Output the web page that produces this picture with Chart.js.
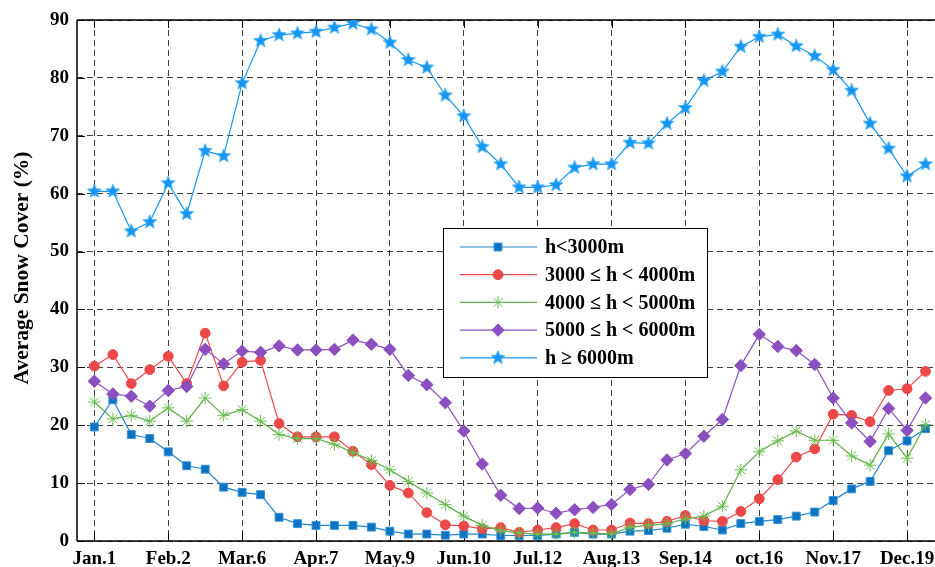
<!DOCTYPE html>
<html>
<head>
<meta charset="utf-8">
<script src="https://cdn.jsdelivr.net/npm/chart.js@4/dist/chart.umd.min.js"></script>
<style>
  html, body { margin: 0; padding: 0; background: #fff; overflow: hidden; }
  #wrap { width: 935px; height: 567px; overflow: hidden; position: relative; }
  canvas { display: block; }
</style>
</head>
<body>
<div id="wrap"><canvas id="c" width="960" height="567"></canvas></div>
<script>
// 8-day composites through the year (46 periods), labelled every 4th period
const tickLabels = ['Jan.1', 'Feb.2', 'Mar.6', 'Apr.7', 'May.9', 'Jun.10',
                    'Jul.12', 'Aug.13', 'Sep.14', 'oct.16', 'Nov.17', 'Dec.19'];
const tickIndex = [0, 4, 8, 12, 16, 20, 24, 28, 32, 36, 40, 44];
const yTicks = [0, 10, 20, 30, 40, 50, 60, 70, 80, 90];

const seriesNames = ['h<3000m', '3000 \u2264 h < 4000m', '4000 \u2264 h < 5000m',
                     '5000 \u2264 h < 6000m', 'h \u2265 6000m'];

const below3000 = [19.7, 24.4, 18.4, 17.7, 15.4, 13.0, 12.4, 9.3, 8.4, 8.0,
                   4.1, 3.0, 2.7, 2.7, 2.7, 2.4, 1.7, 1.2, 1.2, 1.0,
                   1.2, 1.2, 0.95, 0.95, 0.95, 1.2, 1.5, 1.2, 1.2, 1.7,
                   1.8, 2.2, 2.9, 2.5, 1.9, 3.0, 3.4, 3.7, 4.3, 5.0,
                   7.0, 9.0, 10.3, 15.6, 17.3, 19.4];
const from3000to4000 = [30.2, 32.2, 27.2, 29.6, 31.9, 27.2, 35.9, 26.8, 30.9, 31.2,
                        20.3, 18.0, 18.0, 18.0, 15.5, 13.2, 9.6, 8.3, 4.9, 2.8,
                        2.6, 2.1, 2.3, 1.5, 1.9, 2.3, 3.0, 1.9, 1.9, 3.1,
                        3.0, 3.4, 4.4, 3.5, 3.4, 5.1, 7.3, 10.6, 14.5, 15.9,
                        21.9, 21.7, 20.6, 26.0, 26.3, 29.3];
const from4000to5000 = [24.0, 21.1, 21.7, 20.7, 23.0, 20.7, 24.7, 21.7, 22.7, 20.7,
                        18.4, 17.7, 17.7, 16.7, 15.3, 13.9, 12.3, 10.3, 8.3, 6.3,
                        4.3, 2.7, 1.8, 1.35, 1.2, 1.2, 1.5, 1.35, 1.2, 2.4,
                        2.7, 3.0, 3.8, 4.3, 6.0, 12.3, 15.4, 17.3, 19.0, 17.4,
                        17.4, 14.7, 13.1, 18.5, 14.3, 20.1];
const from5000to6000 = [27.6, 25.4, 25.0, 23.3, 26.0, 26.7, 33.1, 30.6, 32.8, 32.6,
                        33.7, 33.0, 33.0, 33.1, 34.7, 34.0, 33.1, 28.6, 27.0, 23.9,
                        19.0, 13.3, 7.9, 5.6, 5.7, 4.8, 5.4, 5.8, 6.3, 8.9,
                        9.8, 14.0, 15.1, 18.1, 21.0, 30.3, 35.7, 33.6, 32.9, 30.5,
                        24.7, 20.4, 17.2, 22.9, 19.1, 24.7];
const above6000 = [60.4, 60.4, 53.5, 55.1, 61.8, 56.5, 67.4, 66.5, 79.1, 86.4,
                   87.4, 87.7, 88.0, 88.7, 89.4, 88.4, 86.1, 83.1, 81.8, 77.0,
                   73.4, 68.1, 65.1, 61.1, 61.1, 61.5, 64.5, 65.1, 65.1, 68.8,
                   68.7, 72.1, 74.8, 79.5, 81.1, 85.4, 87.1, 87.5, 85.5, 83.8,
                   81.4, 77.8, 72.1, 67.8, 63.0, 65.1];

const FONT = "'Times New Roman', 'Liberation Serif', 'DejaVu Serif', serif";

// filled five-pointed star marker
function makeStar(color, outer, inner) {
  const size = Math.ceil(outer * 2 + 3);
  const cv = document.createElement('canvas');
  cv.width = size; cv.height = size;
  const g = cv.getContext('2d');
  const c = size / 2;
  g.beginPath();
  for (let k = 0; k < 10; k++) {
    const r = k % 2 === 0 ? outer : inner;
    const a = -Math.PI / 2 + k * Math.PI / 5;
    const px = c + r * Math.cos(a), py = c + r * Math.sin(a);
    if (k === 0) g.moveTo(px, py); else g.lineTo(px, py);
  }
  g.closePath();
  g.fillStyle = color;
  g.fill();
  g.lineWidth = 0.8;
  g.strokeStyle = '#3aa9f7';
  g.stroke();
  return cv;
}
const starImg = makeStar('#1496f2', 7.2, 3.1);

const toPoints = arr => arr.map((v, i) => ({ x: i, y: v }));

const styles = [
  { line: '#1e84d2', fill: '#0b74c2', edge: '#3a93d6', pointStyle: 'rect', radius: 5.6, pw: 1 },
  { line: '#ea4a4c', fill: '#ec4848', edge: '#ec4848', pointStyle: 'circle', radius: 4.9, pw: 1 },
  { line: '#5cae48', fill: '#6cc050', edge: '#6cc050', pointStyle: 'star', radius: 6.2, pw: 1 },
  { line: '#8a4ebe', fill: '#8c4fc0', edge: '#8c4fc0', pointStyle: 'rectRot', radius: 6.2, pw: 1 },
  { line: '#1596f0', fill: '#1496f2', edge: '#1496f2', pointStyle: starImg, radius: 7, pw: 1 }
];
const seriesData = [below3000, from3000to4000, from4000to5000, from5000to6000, above6000];

const datasets = seriesData.map((arr, k) => ({
  label: seriesNames[k],
  data: toPoints(arr),
  borderColor: styles[k].line,
  backgroundColor: styles[k].fill,
  borderWidth: 1.2,
  pointStyle: styles[k].pointStyle,
  pointRadius: styles[k].radius,
  pointHoverRadius: styles[k].radius,
  pointBackgroundColor: styles[k].fill,
  pointBorderColor: styles[k].edge,
  pointBorderWidth: styles[k].pw,
  tension: 0,
  fill: false,
  order: 4 - k
}));

// frame, inward tick marks, rotated y title and the boxed legend
const decorations = {
  id: 'decorations',
  beforeDatasetsDraw(chart) {
    const { ctx, chartArea: a, scales } = chart;
    ctx.save();
    ctx.strokeStyle = '#000';
    ctx.lineWidth = 1.5;
    ctx.beginPath();
    ctx.moveTo(a.left, a.top); ctx.lineTo(a.right, a.top);
    ctx.moveTo(a.left, a.top); ctx.lineTo(a.left, a.bottom);
    ctx.moveTo(a.left, a.bottom); ctx.lineTo(a.right, a.bottom);
    ctx.stroke();
    ctx.lineWidth = 1;
    ctx.beginPath();
    tickIndex.forEach(v => {
      const x = Math.round(scales.x.getPixelForValue(v)) + 0.5;
      ctx.moveTo(x, a.bottom); ctx.lineTo(x, a.bottom - 8);
      ctx.moveTo(x, a.top); ctx.lineTo(x, a.top + 8);
    });
    yTicks.forEach(v => {
      const y = Math.round(scales.y.getPixelForValue(v)) + 0.5;
      ctx.moveTo(a.left, y); ctx.lineTo(a.left + 8, y);
    });
    ctx.stroke();
    ctx.restore();
  },
  afterDraw(chart) {
    const { ctx } = chart;
    ctx.save();
    // y axis title
    ctx.translate(22.5, 268);
    ctx.rotate(-Math.PI / 2);
    ctx.fillStyle = '#000';
    ctx.font = 'bold 21.5px ' + FONT;
    ctx.textAlign = 'center';
    ctx.textBaseline = 'middle';
    ctx.fillText('Average Snow Cover (%)', 0, 0);
    ctx.restore();

    // legend
    const box = { x: 443.5, y: 228.5, w: 264, h: 149 };
    ctx.save();
    ctx.fillStyle = '#fff';
    ctx.fillRect(box.x, box.y, box.w, box.h);
    ctx.strokeStyle = '#000';
    ctx.lineWidth = 1;
    ctx.strokeRect(box.x, box.y, box.w, box.h);
    const rowY0 = 247, rowStep = 27.7;
    chart.data.datasets.forEach((ds, k) => {
      const y = rowY0 + k * rowStep;
      ctx.strokeStyle = ds.borderColor;
      ctx.lineWidth = 1.2;
      ctx.beginPath();
      ctx.moveTo(460, y); ctx.lineTo(537, y);
      ctx.stroke();
      ctx.fillStyle = ds.pointBackgroundColor;
      ctx.strokeStyle = ds.pointBorderColor;
      ctx.lineWidth = ds.pointBorderWidth;
      Chart.helpers.drawPoint(ctx, {
        pointStyle: ds.pointStyle, radius: ds.pointRadius,
        rotation: 0, borderWidth: ds.pointBorderWidth
      }, 498, y);
      ctx.fillStyle = '#000';
      ctx.font = 'bold 20px ' + FONT;
      ctx.textAlign = 'left';
      ctx.textBaseline = 'middle';
      ctx.fillText(ds.label, 545, y + 1);
    });
    ctx.restore();
  }
};

new Chart(document.getElementById('c'), {
  type: 'line',
  data: { datasets },
  plugins: [decorations],
  options: {
    responsive: false,
    animation: false,
    devicePixelRatio: 1,
    layout: { padding: { left: 0, top: 20, right: 16, bottom: 0 } },
    plugins: { legend: { display: false }, tooltip: { enabled: false } },
    scales: {
      x: {
        type: 'linear',
        min: -0.94,
        max: 46,
        afterBuildTicks: s => { s.ticks = tickIndex.map(v => ({ value: v })); },
        afterFit: s => { s.height = 26; },
        ticks: {
          autoSkip: false,
          maxRotation: 0,
          padding: 7,
          color: '#000',
          font: { family: FONT, size: 19, weight: 'bold' },
          callback: v => tickLabels[tickIndex.indexOf(v)]
        },
        grid: { drawTicks: false, color: 'rgba(30,30,30,0.85)', lineWidth: 1 },
        border: { display: false, dash: [6, 4] }
      },
      y: {
        min: 0,
        max: 90,
        afterBuildTicks: s => { s.ticks = yTicks.map(v => ({ value: v })); },
        afterFit: s => { s.width = 77; },
        ticks: {
          padding: 8,
          color: '#000',
          font: { family: FONT, size: 19, weight: 'bold' }
        },
        grid: { drawTicks: false, color: 'rgba(30,30,30,0.85)', lineWidth: 1 },
        border: { display: false, dash: [6, 4] }
      }
    }
  }
});
</script>
</body>
</html>
